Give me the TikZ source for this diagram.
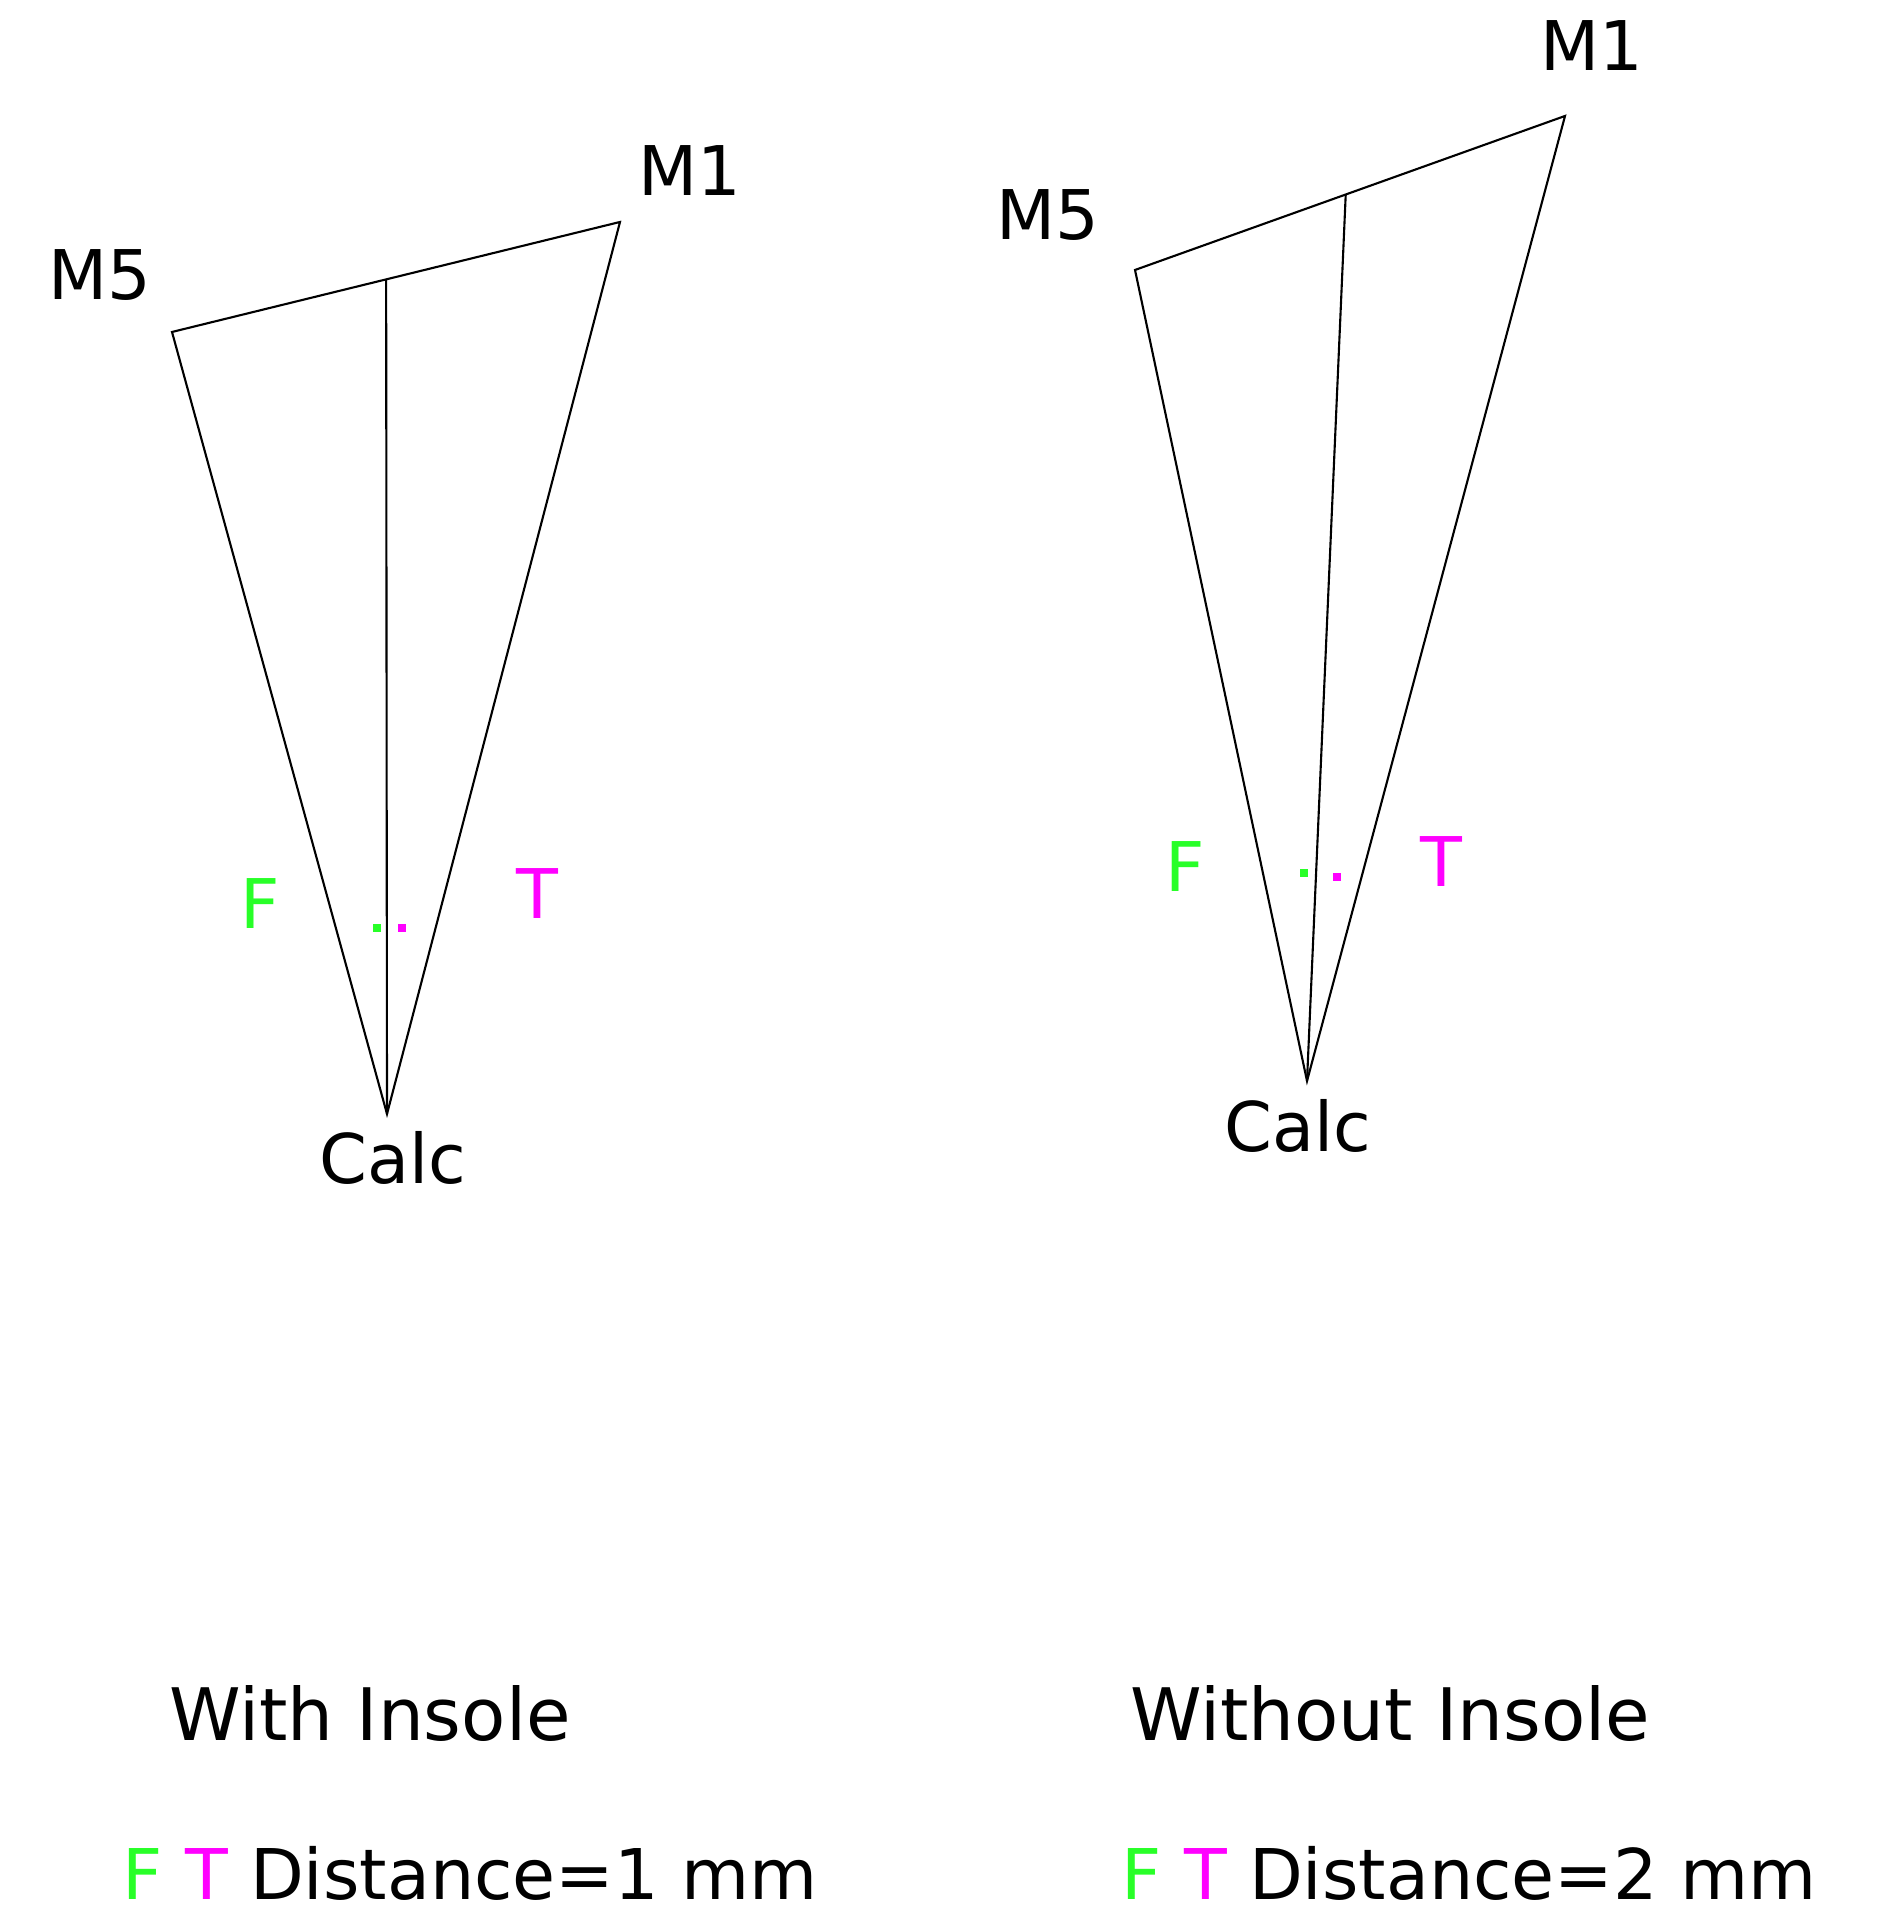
\documentclass[tikz,border=0pt]{standalone}
\usepackage{fontspec}
\setmainfont{DejaVu Sans}
\usetikzlibrary{calc}
\definecolor{fgreen}{RGB}{40,255,40}
\definecolor{tmag}{RGB}{255,0,255}

\begin{document}
\begin{tikzpicture}[
  every node/.style={font=\fontsize{19.5}{23}\selectfont},
  captxt/.style={font=\fontsize{20.6}{24}\selectfont},
  keytxt/.style={anchor=base west, inner sep=0pt, font=\fontsize{19.9}{23}\selectfont},
  leg/.style={thin, black, line width=0.6pt},
  fdot/.style={rectangle, fill=fgreen, minimum size=2.4pt, inner sep=0pt},
  tdot/.style={rectangle, fill=tmag, minimum size=2.4pt, inner sep=0pt}]
\useasboundingbox (0,0) rectangle (18.76,19.15);

% with insole
\coordinate (lm5) at (1.72,15.83);
\coordinate (lm1) at (6.20,16.93);
\coordinate (lcalc) at (3.87,8.01);
\coordinate (lmid) at ($(lm5)!0.478!(lm1)$);
\draw [leg] (lm5) -- (lm1) -- (lcalc) -- cycle;
\draw [leg] (lmid) -- (lcalc);
\node (lm5txt) at (1.00,16.40) {M5};
\node (lm1txt) at (6.90,17.44) {M1};
\node (lcalctxt) at (3.93,7.57) {Calc};
\node [text=fgreen] (lf) at (2.60,10.11) {F};
\node [text=tmag] (lt) at (5.37,10.21) {T};
\node [fdot] (lfdot) at (3.77,9.87) {};
\node [tdot] (ltdot) at (4.02,9.87) {};

% without insole
\coordinate (rm5) at (11.35,16.45);
\coordinate (rm1) at (15.65,17.99);
\coordinate (rcalc) at (13.07,8.34);
\coordinate (rmid) at ($(rm5)!0.49!(rm1)$);
\draw [leg] (rm5) -- (rm1) -- (rcalc) -- cycle;
\draw [leg] (rmid) -- (rcalc);
\node (rm5txt) at (10.48,17.00) {M5};
\node (rm1txt) at (15.92,18.69) {M1};
\node (rcalctxt) at (12.98,7.89) {Calc};
\node [text=fgreen] (rf) at (11.85,10.48) {F};
\node [text=tmag] (rt) at (14.41,10.53) {T};
\node [fdot] (rfdot) at (13.04,10.42) {};
\node [tdot] (rtdot) at (13.37,10.38) {};

% captions
\node [captxt] (lcaption) at (3.70,2.01) {With Insole};
\node [captxt] (rcaption) at (13.90,2.01) {Without Insole};
\node [keytxt] (lkey) at (1.22,0.15)
  {\textcolor{fgreen}{F} \textcolor{tmag}{T} Distance=1 mm};
\node [keytxt] (rkey) at (11.21,0.15)
  {\textcolor{fgreen}{F} \textcolor{tmag}{T} Distance=2 mm};
\end{tikzpicture}
\end{document}
